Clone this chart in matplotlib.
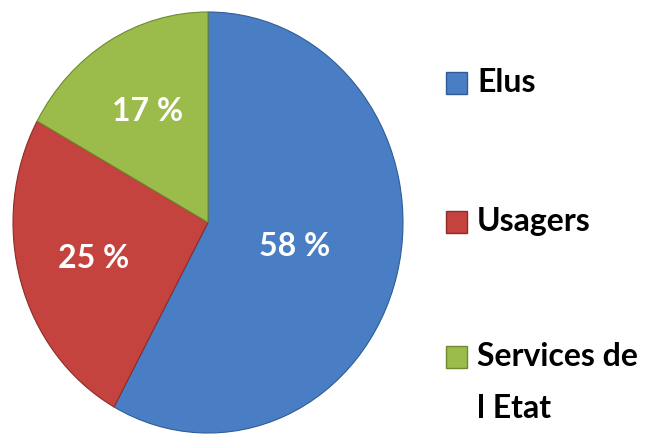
import numpy as np
import matplotlib.pyplot as plt
from matplotlib.patches import Rectangle

labels = ['Elus', 'Usagers', 'Services de\nl Etat']
values = [58, 25, 17]
colors = ['#4A7EC4', '#C4433F', '#9BBB4A']
edge_colors = ['#2F5C96', '#8E2B28', '#6E8A30']

fig = plt.figure(figsize=(6.5, 4.34), dpi=100)
ax = fig.add_axes([13 / 650, 1 / 434, 390 / 650, 421 / 434])

wedges, texts, autotexts = ax.pie(
    values, colors=colors, startangle=90, counterclock=False,
    autopct=lambda p: '%d %%' % round(p), pctdistance=0.61,
    textprops=dict(color='white', fontsize=23, fontweight='bold',
                   family=['Lato', 'DejaVu Sans']))
for w, ec in zip(wedges, edge_colors):
    w.set_edgecolor(ec)
    w.set_linewidth(0.8)

# the big slice's label sits closer to the centre
w = wedges[0]
mid = np.deg2rad((w.theta1 + w.theta2) / 2)
autotexts[0].set_position((0.46 * np.cos(mid), 0.46 * np.sin(mid)))

ax.set_aspect('auto')
ax.set_xlim(-1, 1)
ax.set_ylim(-1, 1)
ax.axis('off')

# legend drawn by hand
ys = [83, 222, 357]
for lab, col, ec, y in zip(labels, colors, edge_colors, ys):
    fy = 1 - y / 434
    fig.patches.append(Rectangle((446 / 650, fy - 11 / 434), 21 / 650, 22 / 434,
                                 transform=fig.transFigure, facecolor=col,
                                 edgecolor=ec, linewidth=1))
    for i, line in enumerate(lab.split('\n')):
        fig.text(477 / 650, fy - i * 51 / 434, line, fontsize=23,
                 va='center', ha='left', color='black', fontweight='bold',
                 family=['Lato', 'DejaVu Sans'])

fig.savefig('out.png', dpi=100)
